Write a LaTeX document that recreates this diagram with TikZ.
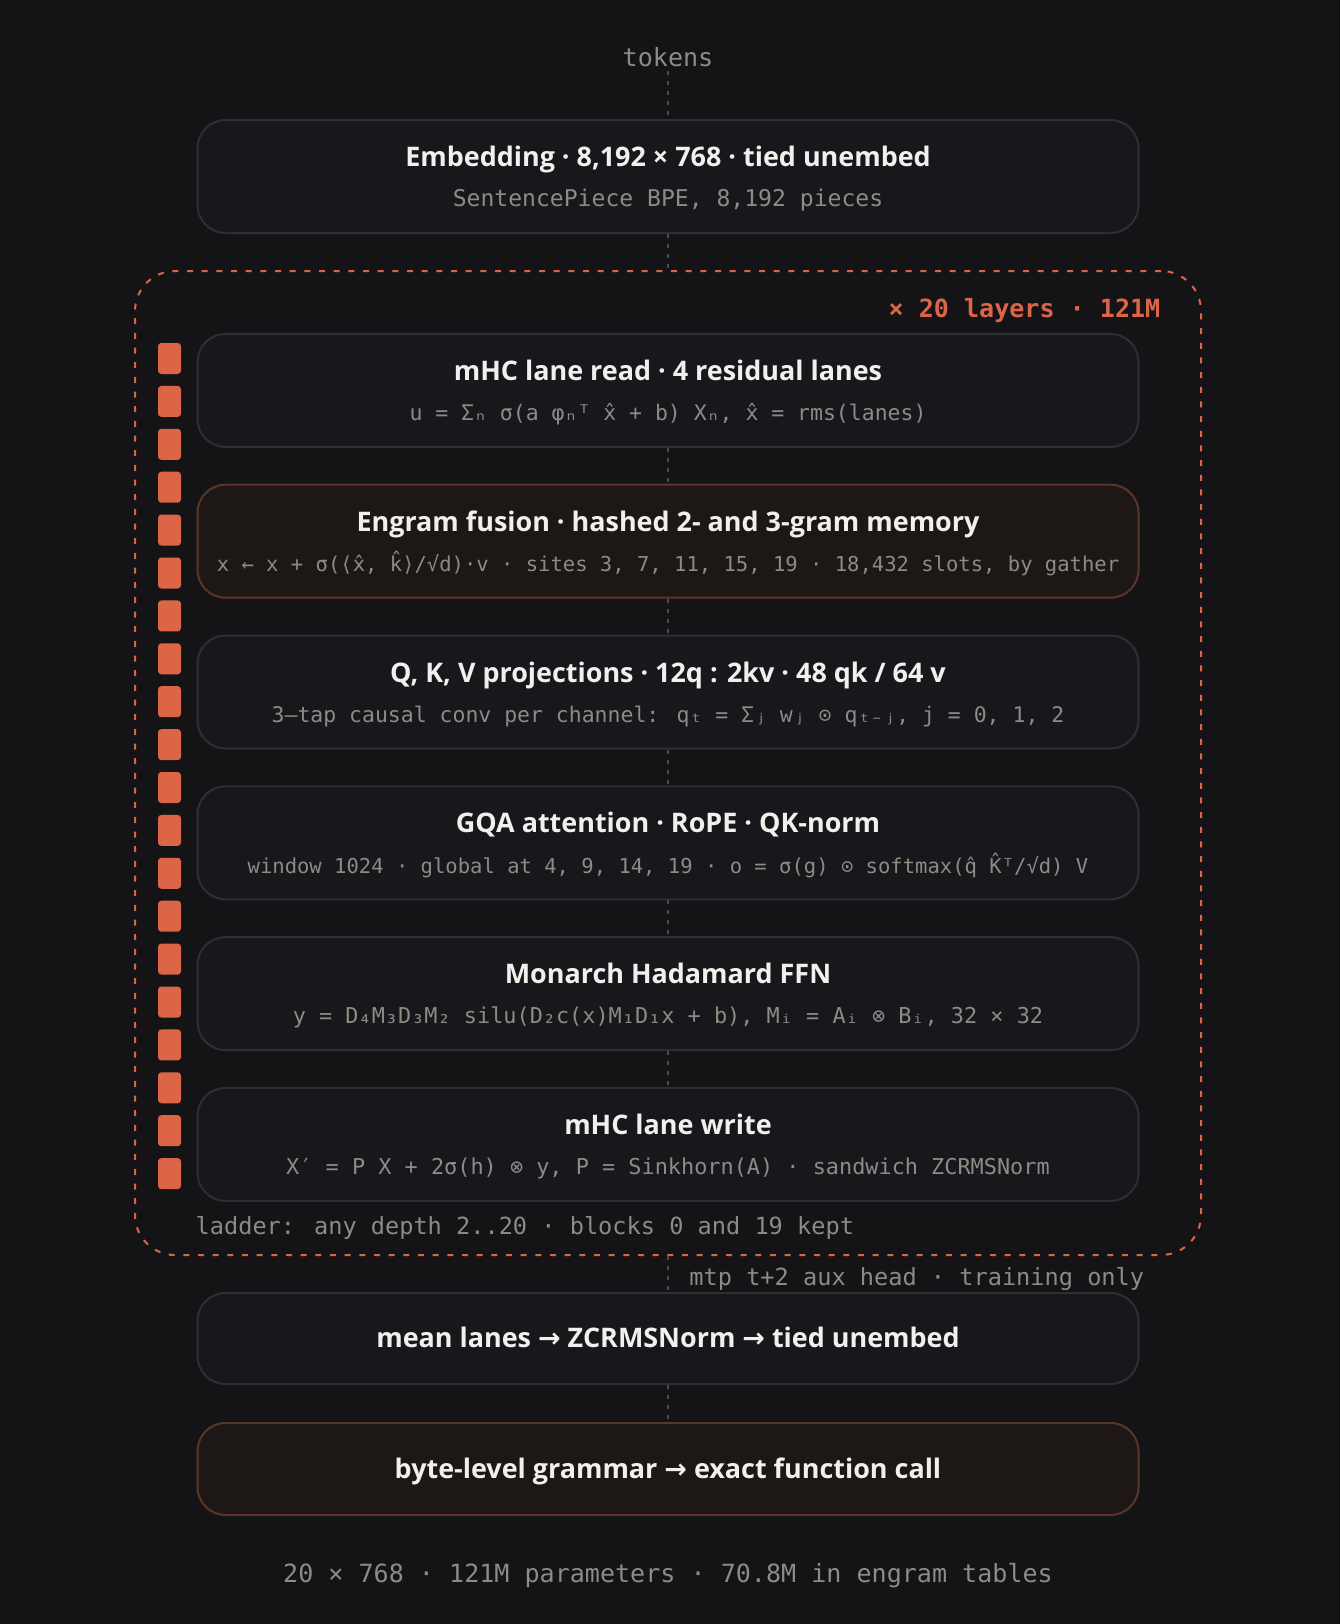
\documentclass[tikz,border=0pt]{standalone}
\usepackage{fontspec}
\setmainfont{Open Sans}
\newfontfamily\monofont{DejaVu Sans Mono}
\newfontfamily\arrowfont{DejaVu Sans}
\usetikzlibrary{positioning}

\definecolor{bgcol}{HTML}{141416}
\definecolor{boxfill}{HTML}{18181C}
\definecolor{boxline}{HTML}{2E2E33}
\definecolor{warmfill}{HTML}{1D1815}
\definecolor{warmline}{HTML}{5C3529}
\definecolor{accent}{HTML}{DC6548}
\definecolor{titletext}{HTML}{F2F0EC}
\definecolor{subtext}{HTML}{8E8A84}
\definecolor{linkcol}{HTML}{4C4C50}

\newcommand{\rarr}{{\arrowfont\bfseries →}}

\tikzset{
  block/.style={draw=boxline, fill=boxfill, line width=1.5pt, rounded corners=21pt,
    minimum width=705.75pt, minimum height=84.75pt, inner sep=0pt},
  warm/.style={block, draw=warmline, fill=warmfill},
  headline/.style={anchor=base, text=titletext, font=\fontsize{20.2}{22}\selectfont\bfseries},
  detail/.style={anchor=base, text=subtext, font=\monofont\fontsize{16.4}{20}\selectfont},
  tight/.style={font=\monofont\fontsize{15.4}{20}\selectfont},
  note/.style={text=subtext, font=\monofont\fontsize{17.7}{20}\selectfont},
  caption/.style={text=subtext, font=\monofont\fontsize{18.8}{20}\selectfont},
  frame/.style={draw=accent, line width=1.5pt, dash pattern=on 4.5pt off 6.5pt,
    rounded corners=30pt, minimum width=799.5pt, minimum height=738pt, inner sep=0pt},
  layers/.style={anchor=base east, text=accent, font=\monofont\fontsize{18.8}{20}\selectfont\bfseries},
  link/.style={draw=linkcol, line width=1.5pt, dash pattern=on 3pt off 4.5pt},
}

\begin{document}
\begin{tikzpicture}[x=0.75pt, y=-0.75pt]
\useasboundingbox[fill=bgcol] (0,0) rectangle (1340,1624);

% repeated stack
\node[frame] (stack) at (668,763) {};
\node[layers] at (1165,317) {× 20 layers · 121M};
\foreach \i in {0,...,19}
  \fill[accent, rounded corners=2.5pt] (158,343+42.9*\i) rectangle ++(23,31);

\node[caption] (tok) at (668,57) {tokens};

\node[block] (emb) at (668,176.5) {};
\node[headline] at ([yshift=7.5pt]emb.center) {Embedding · 8,192 × 768 · tied unembed};
\node[detail, font=\monofont\fontsize{17.3}{20}\selectfont] at ([yshift=-22.5pt]emb.center) {SentencePiece BPE, 8,192 pieces};

\node[block] (read) at (668,390.4) {};
\node[headline] at ([yshift=7.5pt]read.center) {mHC lane read · 4 residual lanes};
\node[detail, font=\monofont\fontsize{16.1}{20}\selectfont] at ([yshift=-22.5pt]read.center) {u = Σₙ σ(a φₙᵀ x̂ + b) Xₙ, x̂ = rms(lanes)};

\node[warm] (engram) [below=26.85pt of read] {};
\node[headline] at ([yshift=7.5pt]engram.center) {Engram fusion · hashed 2- and 3-gram memory};
\node[detail, tight] at ([yshift=-23pt]engram.center) {x ← x + σ(⟨x̂, k̂⟩/√d)·v · sites 3, 7, 11, 15, 19 · 18,432 slots, by gather};

\node[block] (qkv) [below=26.85pt of engram] {};
\node[headline] at ([yshift=7.5pt]qkv.center) {Q, K, V projections · 12q : 2kv · 48 qk / 64 v};
\node[detail, font=\monofont\fontsize{16.1}{20}\selectfont] at ([yshift=-22.5pt]qkv.center) {3–tap causal conv per channel: qₜ = Σⱼ wⱼ ⊙ qₜ₋ⱼ, j = 0, 1, 2};

\node[block] (gqa) [below=26.85pt of qkv] {};
\node[headline] at ([yshift=7.5pt]gqa.center) {GQA attention · RoPE · QK-norm};
\node[detail, tight] at ([yshift=-23pt]gqa.center) {window 1024 · global at 4, 9, 14, 19 · o = σ(g) ⊙ softmax(q̂ K̂ᵀ/√d) V};

\node[block] (ffn) [below=26.85pt of gqa] {};
\node[headline] at ([yshift=7.5pt]ffn.center) {Monarch Hadamard FFN};
\node[detail] at ([yshift=-22.5pt]ffn.center) {y = D₄M₃D₃M₂ silu(D₂c(x)M₁D₁x + b), Mᵢ = Aᵢ ⊗ Bᵢ, 32 × 32};

\node[block] (write) [below=26.85pt of ffn] {};
\node[headline] at ([yshift=7.5pt]write.center) {mHC lane write};
\node[detail] at ([yshift=-22.5pt]write.center) {X′ = P X + 2σ(h) ⊗ y, P = Sinkhorn(A) · sandwich ZCRMSNorm};

\node[note, anchor=base west] at (191,1234) {ladder: any depth 2..20 · blocks 0 and 19 kept};

% output head
\node[block, minimum height=68.25pt] (mean) at (668,1338.5) {};
\node[headline] at ([yshift=-7pt]mean.center) {mean lanes \rarr{} ZCRMSNorm \rarr{} tied unembed};

\node[warm, minimum height=69pt] (gram) at (668,1469) {};
\node[headline] at ([yshift=-7pt]gram.center) {byte-level grammar \rarr{} exact function call};

\node[caption] at (668,1576) {20 × 768 · 121M parameters · 70.8M in engram tables};

% connectors
\draw[link] (tok) -- (emb);
\draw[link] (emb) -- (stack);
\draw[link] (read) -- (engram);
\draw[link] (engram) -- (qkv);
\draw[link] (qkv) -- (gqa);
\draw[link] (gqa) -- (ffn);
\draw[link] (ffn) -- (write);
\draw[link] (stack) -- node[note, anchor=west, xshift=12pt, yshift=-3.5pt] {mtp t+2 aux head · training only} (mean);
\draw[link] (mean) -- (gram);
\end{tikzpicture}
\end{document}
